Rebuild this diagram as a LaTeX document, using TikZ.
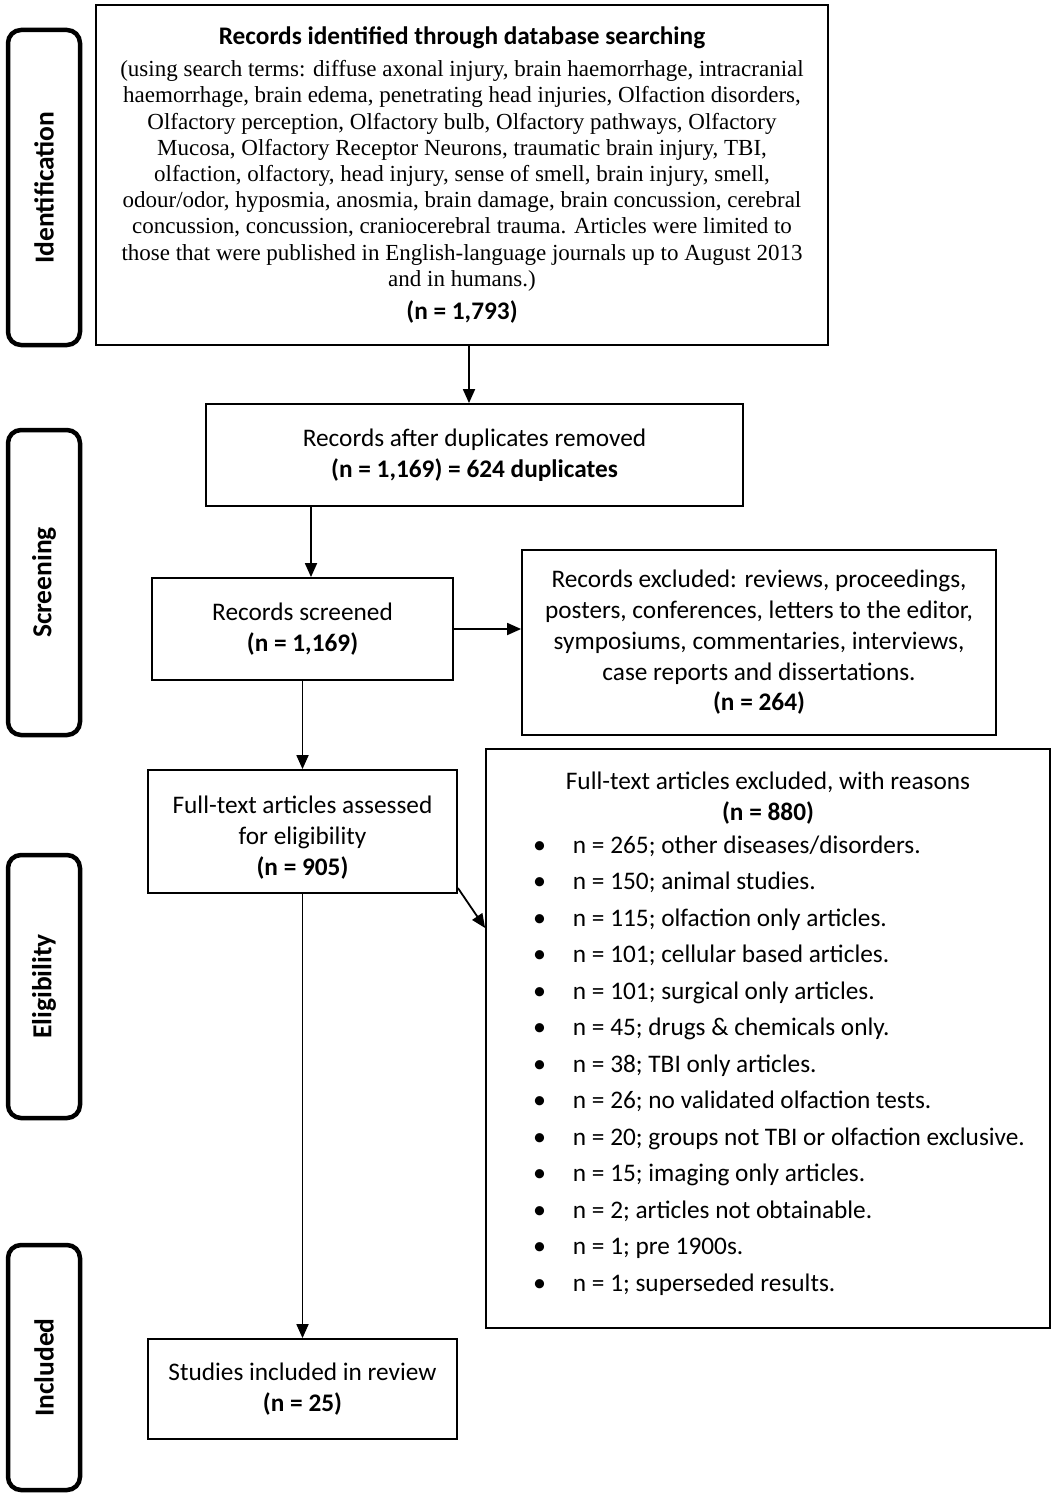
\documentclass[tikz,border=0pt]{standalone}
\usepackage{fontspec}
\setmainfont{Carlito}
\newfontfamily\tnr{Liberation Serif}
\usetikzlibrary{arrows.meta}
\newcommand\exitem[1]{\makebox[564pt][l]{\hspace{47pt}{\fontsize{26}{30}\selectfont\textbullet}\hspace{27pt}#1}}
\newcommand\exhead[1]{\makebox[564pt][c]{#1}}
\begin{document}
\begin{tikzpicture}[x=1pt,y=-1pt,
  box/.style={draw, line width=1.8pt, rectangle, align=center, inner sep=0pt, font=\fontsize{25.3}{30.7}\selectfont},
  phase/.style={draw, line width=4.5pt, rounded corners=13pt, inner sep=0pt, rotate=90, minimum height=72pt, font=\fontsize{27.5}{30}\selectfont\bfseries},
  arr/.style={-{Triangle[length=14pt,width=12pt]}, line width=1.8pt}]
\useasboundingbox (0,0) rectangle (1057,1498);

% phase labels
\node[phase, minimum width=315pt] (pid) at (44,187.5) {Identification};
\node[phase, minimum width=305pt] (psc) at (44,582.5) {Screening};
\node[phase, minimum width=263pt] (pel) at (44,986.5) {Eligibility};
\node[phase, minimum width=245pt] (pin) at (44,1367.5) {Included};

% boxes
\node[box, minimum width=732pt, minimum height=340pt, font=\fontsize{23}{26.2}\selectfont\tnr] (top) at (462,175)
{{\rmfamily\bfseries\fontsize{25.3}{26.2}\selectfont Records identified through database searching}\\[5.8pt]
(using search terms: diffuse axonal injury, brain haemorrhage, intracranial\\
haemorrhage, brain edema, penetrating head injuries, Olfaction disorders,\\
Olfactory perception, Olfactory bulb, Olfactory pathways, Olfactory\\
Mucosa, Olfactory Receptor Neurons, traumatic brain injury, TBI,\\
olfaction, olfactory, head injury, sense of smell, brain injury, smell,\\
odour/odor, hyposmia, anosmia, brain damage, brain concussion, cerebral\\
concussion, concussion, craniocerebral trauma. Articles were limited to\\
those that were published in English-language journals up to August 2013\\
and in humans.)\\[6.8pt]
{\rmfamily\bfseries\fontsize{25.3}{26.2}\selectfont (n = 1,793)}};

\node[box, minimum width=537pt, minimum height=102pt] (dup) at (474.5,455)
{Records after duplicates removed\\ \textbf{(n = 1,169) = 624 duplicates}};

\node[box, minimum width=301pt, minimum height=102pt] (scr) at (302.5,629)
{Records screened\\ \textbf{(n = 1,169)}};

\node[box, minimum width=474pt, minimum height=185pt] (ex1) at (759,642.5)
{Records excluded: reviews, proceedings,\\
posters, conferences, letters to the editor,\\
symposiums, commentaries, interviews,\\
case reports and dissertations.\\
\textbf{(n = 264)}};

\node[box, minimum width=309pt, minimum height=123pt] (ft) at (302.5,831.5)
{\rule{0pt}{30pt}Full-text articles assessed\\ for eligibility\\ \textbf{(n = 905)}};

\node[box, minimum width=564pt, minimum height=579pt, align=left] (ex2) at (768,1038.5)
{\exhead{Full-text articles excluded, with reasons}\\
\exhead{\textbf{(n = 880)}}\\[2.5pt]
\exitem{n = 265; other diseases/disorders.}\\[5.8pt]
\exitem{n = 150; animal studies.}\\[5.8pt]
\exitem{n = 115; olfaction only articles.}\\[5.8pt]
\exitem{n = 101; cellular based articles.}\\[5.8pt]
\exitem{n = 101; surgical only articles.}\\[5.8pt]
\exitem{n = 45; drugs \& chemicals only.}\\[5.8pt]
\exitem{n = 38; TBI only articles.}\\[5.8pt]
\exitem{n = 26; no validated olfaction tests.}\\[5.8pt]
\exitem{n = 20; groups not TBI or olfaction exclusive.}\\[5.8pt]
\exitem{n = 15; imaging only articles.}\\[5.8pt]
\exitem{n = 2; articles not obtainable.}\\[5.8pt]
\exitem{n = 1; pre 1900s.}\\[5.8pt]
\exitem{n = 1; superseded results.}\rule[-14pt]{0pt}{1pt}};

\node[box, minimum width=309pt, minimum height=100pt] (inc) at (302.5,1389)
{Studies included in review\\ \textbf{(n = 25)}};

% connectors
\coordinate (c469) at (469,0);
\coordinate (c311) at (311,0);
\coordinate (d1) at (457,888);
\coordinate (d2) at (486,928);
\draw[arr] (top.south -| c469) -- (dup.north -| c469);
\draw[arr] (dup.south -| c311) -- (scr.north -| c311);
\draw[arr] (scr.east) -- (scr.east -| ex1.west);
\draw[arr] (scr.south) -- (ft.north);
\draw[arr] (ft.east |- d1) -- (ex2.west |- d2);
\draw[arr] (ft.south) -- (inc.north);
\end{tikzpicture}
\end{document}
